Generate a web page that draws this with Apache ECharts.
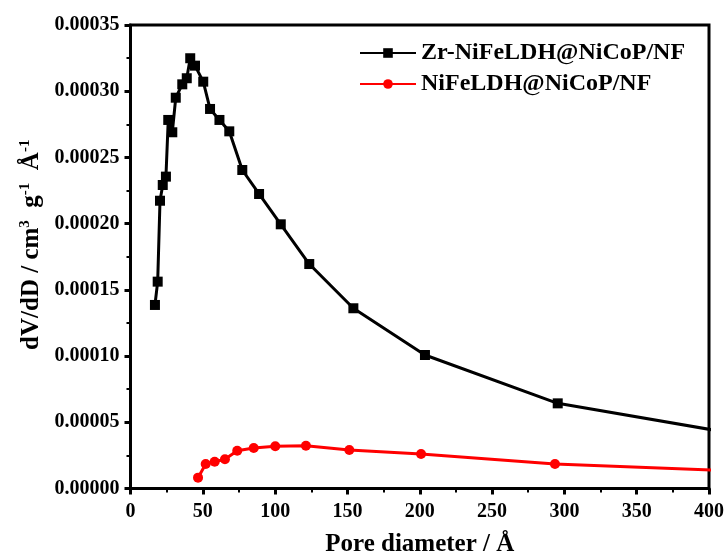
<!DOCTYPE html>
<html>
<head>
<meta charset="utf-8">
<script src="https://cdn.jsdelivr.net/npm/echarts@6/dist/echarts.min.js"></script>
<style>
  html, body { margin: 0; padding: 0; background: #fff; }
  #chart { width: 727px; height: 556px; }
</style>
</head>
<body>
<div id="chart"></div>
<script>
// Pore size distribution (BJH), dV/dD versus pore diameter
const seriesNames = ['Zr-NiFeLDH@NiCoP/NF', 'NiFeLDH@NiCoP/NF'];

const zrDiameter = [16.9, 18.8, 20.4, 22.3, 24.5, 26.1, 28.9, 31.3, 35.8, 38.9, 41.3, 44.6,
  50.3, 55.0, 61.5, 68.3, 77.3, 88.9, 103.9, 123.6, 154.1, 203.6, 295.4, 560];
const zrDvdd = [0.0001386, 0.0001562, 0.0002173, 0.0002292, 0.0002355, 0.0002783, 0.0002690,
  0.0002951, 0.0003052, 0.0003098, 0.0003249, 0.0003193, 0.0003072, 0.0002866, 0.0002783,
  0.0002697, 0.0002405, 0.0002224, 0.0001995, 0.0001695, 0.0001361, 0.0001008, 0.0000643,
  0.0000148];

const niDiameter = [46.7, 52.0, 58.2, 65.3, 73.8, 85.2, 100.1, 121.3, 151.3, 200.9, 293.5, 560];
const niDvdd = [0.0000082, 0.0000185, 0.0000202, 0.0000221, 0.0000285, 0.0000306, 0.0000319,
  0.0000323, 0.0000291, 0.0000261, 0.0000185, 0.0000073];

const xTicks = { min: 0, max: 400, interval: 50 };
const yTicks = { min: 0, max: 0.00035, interval: 0.00005 };

const pair = (xs, ys) => xs.map((x, i) => [x, ys[i]]);

const FONT = '"Liberation Serif", "Times New Roman", serif';

const chart = echarts.init(document.getElementById('chart'), null, { renderer: 'canvas' });

chart.setOption({
  animation: false,
  backgroundColor: '#fff',
  grid: {
    left: 130.5, right: 18, top: 25, bottom: 67.5,
    outerBoundsMode: 'none',
    containLabel: false,
    show: true, borderColor: '#000', borderWidth: 3, backgroundColor: 'transparent'
  },
  legend: {
    left: 359, top: 41, orient: 'vertical', padding: 0,
    itemWidth: 56, itemHeight: 12, itemGap: 7,
    textStyle: { fontFamily: FONT, fontWeight: 'bold', fontSize: 24, color: '#000' },
    data: seriesNames
  },
  xAxis: {
    type: 'value',
    min: xTicks.min, max: xTicks.max, interval: xTicks.interval,
    name: 'Pore diameter / Å',
    nameLocation: 'middle', nameGap: 44,
    nameTextStyle: { fontFamily: FONT, fontWeight: 'bold', fontSize: 25, color: '#000' },
    axisLine: { show: true, onZero: false, lineStyle: { color: '#000', width: 3 } },
    axisTick: { show: true, inside: false, length: 6, lineStyle: { color: '#000', width: 3 } },
    minorTick: { show: true, splitNumber: 2, length: 4, lineStyle: { color: '#000', width: 2 } },
    axisLabel: { fontFamily: FONT, fontWeight: 'bold', fontSize: 20, color: '#000', margin: 13 },
    splitLine: { show: false }
  },
  yAxis: {
    type: 'value',
    min: yTicks.min, max: yTicks.max, interval: yTicks.interval,
    name: '{b|dV/dD / cm}{s|3}{b|  g}{s|-1}{b|  Å}{s|-1}',
    nameLocation: 'middle', nameGap: 82, nameRotate: 90,
    nameTextStyle: {
      fontFamily: FONT, fontWeight: 'bold', fontSize: 25, color: '#000',
      padding: [0, 0, 0, 24],
      rich: {
        b: { fontFamily: FONT, fontWeight: 'bold', fontSize: 25, color: '#000' },
        s: { fontFamily: FONT, fontWeight: 'bold', fontSize: 15, color: '#000', verticalAlign: 'top', padding: [0, 0, 12, 0] }
      }
    },
    axisLine: { show: true, onZero: false, lineStyle: { color: '#000', width: 3 } },
    axisTick: { show: true, inside: false, length: 6, lineStyle: { color: '#000', width: 3 } },
    minorTick: { show: true, splitNumber: 2, length: 4, lineStyle: { color: '#000', width: 2 } },
    axisLabel: {
      fontFamily: FONT, fontWeight: 'bold', fontSize: 20, color: '#000', margin: 11,
      formatter: v => v.toFixed(5)
    },
    splitLine: { show: false }
  },
  series: [
    {
      name: seriesNames[0],
      type: 'line',
      data: pair(zrDiameter, zrDvdd),
      clip: true,
      symbol: 'rect', symbolSize: 10,
      itemStyle: { color: '#000' },
      lineStyle: { color: '#000', width: 3 }
    },
    {
      name: seriesNames[1],
      type: 'line',
      data: pair(niDiameter, niDvdd),
      clip: true,
      symbol: 'circle', symbolSize: 10,
      itemStyle: { color: '#ff0000' },
      lineStyle: { color: '#ff0000', width: 3 }
    }
  ]
});
</script>
</body>
</html>
